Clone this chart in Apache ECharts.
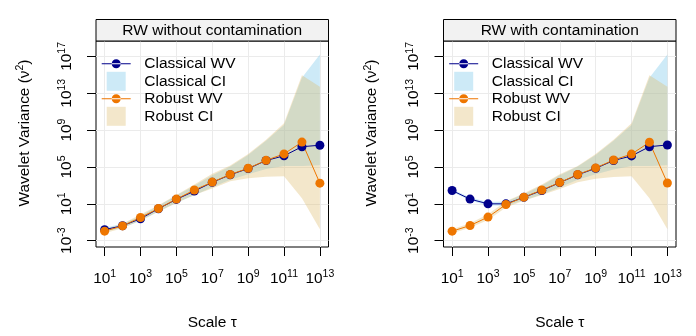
<!DOCTYPE html>
<html><head><meta charset="utf-8">
<script src="https://cdn.jsdelivr.net/npm/echarts@6/dist/echarts.min.js"></script>
<style>html,body{margin:0;padding:0;background:#fff}#c{width:696px;height:336px}</style>
</head><body><div id="c"></div>
<script>
// ---------- data ----------
const scales = [1e1,1e2,1e3,1e4,1e5,1e6,1e7,1e8,1e9,1e10,1e11,1e12,1e13];
const xTicks = [1e1,1e3,1e5,1e7,1e9,1e11,1e13];
const yTicks = [1e-3,1e1,1e5,1e9,1e13,1e17];
const panelTitles = ['RW without contamination','RW with contamination'];
const legendNames = ['Classical WV','Classical CI','Robust WV','Robust CI'];
const xAxisTitle = 'Scale τ';

// left panel: RW without contamination
const leftClassicalWV = [1.58e-2,4.17e-2,2.40e-1,2.95,30.2,240,2140,1.41e4,6.61e4,5.01e5,1.62e6,1.58e7,2.29e7];
const leftRobustWV    = [1.07e-2,3.98e-2,3.31e-1,3.09,32.4,316,2290,1.51e4,7.24e4,5.25e5,2.63e6,5.01e7,1740];
const leftClassicalLo = [1.0e-2,2.51e-2,1.35e-1,1.51,13.2,83.2,631,3980,1.66e4,6.03e4,1.26e5,1.26e5,1.58e5];
const leftClassicalHi = [2.51e-2,7.08e-2,4.47e-1,6.31,79.4,891,1.26e4,1.12e5,2.00e6,7.08e7,3.55e9,4.68e14,1.58e17];
const leftRobustLo    = [6.31e-3,2.24e-2,1.66e-1,1.41,12.6,89.1,447,2820,6030,8910,1.0e4,39.8,1.78e-2];
const leftRobustHi    = [1.78e-2,7.08e-2,7.08e-1,7.08,89.1,1260,1.78e4,1.41e5,2.51e6,8.91e7,5.62e9,8.91e14,5.01e13];

// right panel: RW with contamination
const rightClassicalWV = [275,32.4,10.0,10.0,50.1,282,2000,1.41e4,7.08e4,5.01e5,1.58e6,1.58e7,2.45e7];
const rightRobustWV    = [1.07e-2,4.37e-2,3.63e-1,8.32,52.5,316,2090,1.51e4,7.94e4,5.62e5,2.51e6,4.79e7,1820];
const rightClassicalLo = [200,22.4,6.61,6.31,25.1,100,631,3980,1.58e4,5.25e4,1.26e5,1.26e5,1.58e5];
const rightClassicalHi = [380,47.9,15.8,17.8,112,1000,1.26e4,1.12e5,2.00e6,7.08e7,3.55e9,4.68e14,1.58e17];
const rightRobustLo    = [6.31e-3,2.51e-2,1.78e-1,3.98,20.9,89.1,417,2240,5370,7940,1.0e4,39.8,1.78e-2];
const rightRobustHi    = [1.78e-2,7.94e-2,7.59e-1,19.1,141,1260,1.58e4,1.26e5,2.51e6,8.91e7,5.62e9,8.91e14,5.01e13];

// ---------- styling ----------
const FONT = '"Liberation Sans", Arial, Helvetica, sans-serif';
const BLUE = '#00008B', ORANGE = '#EE7600';
const CI_BLUE = 'rgba(135,206,235,0.42)', CI_TAN = 'rgba(221,186,106,0.35)';
const W = 232.5, TOP = 41, H = 218;
const panels = [
  {left: 96, wv: [leftClassicalWV, leftRobustWV], ci: [[leftClassicalLo, leftClassicalHi], [leftRobustLo, leftRobustHi]]},
  {left: 443.5, wv: [rightClassicalWV, rightRobustWV], ci: [[rightClassicalLo, rightClassicalHi], [rightRobustLo, rightRobustHi]]}
];
const rich = {
  b: {fontSize: 15.4, lineHeight: 15, verticalAlign: 'bottom', fontFamily: FONT, color: '#000'},
  s: {fontSize: 10.5, lineHeight: 10, padding: [0,0,8,0], fontFamily: FONT, color: '#000'}
};
function expLabel(v) { const e = Math.round(Math.log10(v)); return '{b|10}{s|' + e + '}'; }

const LINE_ICON = 'path://M0,4 L29,4 L29,5 L0,5 Z M10,4.5 A4.5,4.5 0 1,0 19,4.5 A4.5,4.5 0 1,0 10,4.5 Z';
const SQ_ICON = 'path://M0,0 L20,0 L20,20 L0,20 Z';

function bandSeries(name, idx, lo, hi, color) {
  return {
    type: 'custom', name, xAxisIndex: idx, yAxisIndex: idx,
    itemStyle: {color},
    data: scales.map((x, i) => [x, lo[i], hi[i]]),
    encode: {x: 0, y: [1, 2]},
    silent: true,
    renderItem(params, api) {
      if (params.dataIndex !== 0) return null;
      const pts = [];
      for (let i = 0; i < scales.length; i++) pts.push(api.coord([scales[i], hi[i]]));
      for (let i = scales.length - 1; i >= 0; i--) pts.push(api.coord([scales[i], lo[i]]));
      return {type: 'polygon', shape: {points: pts}, style: {fill: color}, silent: true};
    }
  };
}
function lineSeries(name, idx, vals, color) {
  return {
    type: 'line', name, xAxisIndex: idx, yAxisIndex: idx,
    data: scales.map((x, i) => [x, vals[i]]),
    symbol: 'circle', symbolSize: 9, showSymbol: true,
    lineStyle: {color, width: 1}, itemStyle: {color},
    silent: true
  };
}

const option = {
  animation: false,
  textStyle: {fontFamily: FONT},
  grid: panels.map(p => ({left: p.left, top: TOP, width: W, height: H, show: true, borderColor: '#000', borderWidth: 1, backgroundColor: 'transparent'})),
  xAxis: panels.map((p, i) => ({
    type: 'log', logBase: 10, gridIndex: i,
    min: Math.pow(10, 0.52), max: Math.pow(10, 13.48),
    axisLine: {show: false},
    axisTick: {show: true, length: 9, customValues: xTicks, lineStyle: {color: '#000', width: 1}},
    axisLabel: {customValues: xTicks, margin: 24, formatter: expLabel, rich},
    splitLine: {show: true, lineStyle: {color: '#EBEBEB', width: 1}},
    minorTick: {show: false}, minorSplitLine: {show: false},
    name: xAxisTitle, nameLocation: 'middle', nameGap: 68,
    nameTextStyle: {fontSize: 15.5, fontFamily: FONT, color: '#000'}
  })),
  yAxis: panels.map((p, i) => ({
    type: 'log', logBase: 10, gridIndex: i,
    min: Math.pow(10, -3.687), max: Math.pow(10, 18.672),
    axisLine: {show: false},
    axisTick: {show: true, length: 9, customValues: yTicks, lineStyle: {color: '#000', width: 1}},
    axisLabel: {customValues: yTicks, rotate: 90, margin: 22, formatter: expLabel, rich},
    splitLine: {show: true, lineStyle: {color: '#EBEBEB', width: 1}},
    minorTick: {show: false}, minorSplitLine: {show: false},
    name: '{b|Wavelet Variance (ν}{s|2}{b|)}', nameLocation: 'middle', nameRotate: 90, nameGap: 64,
    nameTextStyle: {rich, padding: [0, 0, 0, 22]}
  })),
  legend: panels.map(p => ({
    orient: 'vertical', left: p.left + 5.7, top: 55.8, padding: 0,
    itemWidth: 29, itemHeight: 19, itemGap: 0, selectedMode: false,
    textStyle: {fontSize: 15.5, fontFamily: FONT, color: '#000', padding: [0, 0, 0, 8.6]},
    data: [
      {name: legendNames[0], icon: LINE_ICON, itemStyle: {color: BLUE, borderWidth: 0}},
      {name: legendNames[1], icon: SQ_ICON, itemStyle: {color: CI_BLUE, borderWidth: 0}},
      {name: legendNames[2], icon: LINE_ICON, itemStyle: {color: ORANGE, borderWidth: 0}},
      {name: legendNames[3], icon: SQ_ICON, itemStyle: {color: CI_TAN, borderWidth: 0}}
    ]
  })),
  graphic: panels.flatMap((p, i) => [
    {type: 'rect', shape: {x: p.left, y: 19.5, width: W, height: 21.5}, style: {fill: '#F2F2F2', stroke: '#000', lineWidth: 1}, z: 10},
    {type: 'text', x: p.left + W / 2, y: 30.5, z: 11,
     style: {text: panelTitles[i], font: '15.5px ' + FONT, fill: '#000', align: 'center', verticalAlign: 'middle', textAlign: 'center', textVerticalAlign: 'middle'}}
  ]),
  series: panels.flatMap((p, i) => [
    bandSeries(legendNames[1], i, p.ci[0][0], p.ci[0][1], CI_BLUE),
    bandSeries(legendNames[3], i, p.ci[1][0], p.ci[1][1], CI_TAN),
    lineSeries(legendNames[0], i, p.wv[0], BLUE),
    lineSeries(legendNames[2], i, p.wv[1], ORANGE)
  ])
};
const chart = echarts.init(document.getElementById('c'), null, {renderer: 'canvas'});
chart.setOption(option);
</script>
</body></html>
